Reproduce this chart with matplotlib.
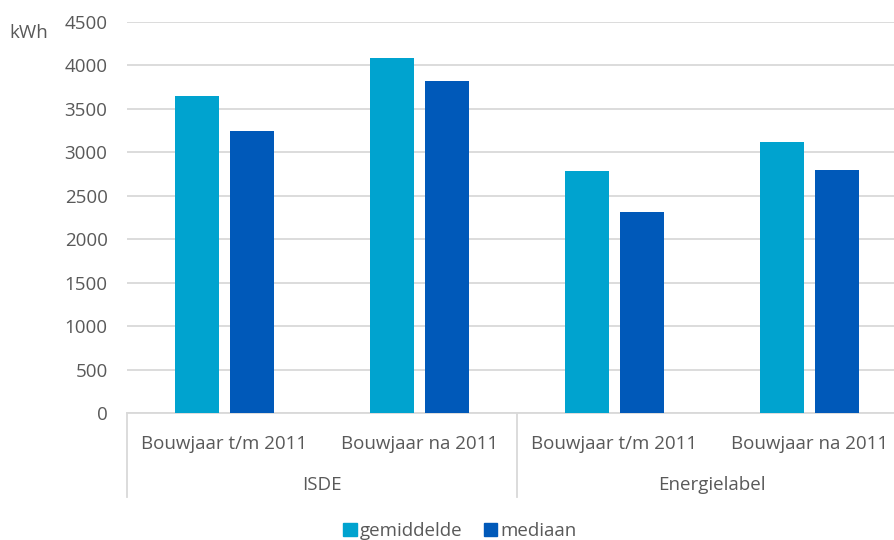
import numpy as np
import matplotlib.pyplot as plt
from matplotlib.patches import Patch
from matplotlib.transforms import blended_transform_factory

plt.rcParams['font.family'] = ['Open Sans', 'DejaVu Sans']

# bouwjaar-categorieën per regeling
subcats = ['Bouwjaar t/m 2011', 'Bouwjaar na 2011', 'Bouwjaar t/m 2011', 'Bouwjaar na 2011']
groups = ['ISDE', 'Energielabel']
gemiddelde = [3650, 4090, 2790, 3120]
mediaan = [3250, 3820, 2310, 2800]

grey = '#595959'
light = '#00A3CF'
dark = '#0059B9'
fs = 13.5

fig = plt.figure(figsize=(8.94, 5.4), dpi=100)
ax = fig.add_axes([127 / 894, 1 - 413 / 540, 780 / 894, 391 / 540])

x = np.arange(len(subcats))
w = 0.225
ax.bar(x - 0.142, gemiddelde, w, color=light, zorder=3)
ax.bar(x + 0.142, mediaan, w, color=dark, zorder=3)

ax.set_xlim(-0.5, len(subcats) - 0.5)
ax.set_ylim(0, 4500)
ax.set_yticks(np.arange(0, 4501, 500))
ax.yaxis.grid(True, color='#D9D9D9', linewidth=1.3, zorder=0)
ax.tick_params(axis='y', length=0, labelsize=fs, labelcolor=grey, pad=14)
for s in ['top', 'right', 'left']:
    ax.spines[s].set_visible(False)
ax.spines['bottom'].set_color('#D9D9D9')
ax.spines['bottom'].set_linewidth(1.3)

ax.set_xticks(x)
ax.set_xticklabels(subcats, fontsize=fs, color=grey)
ax.tick_params(axis='x', length=0, pad=16)

# tweede niveau: groepslabels en scheidingslijnen
tr = blended_transform_factory(ax.transData, ax.transAxes)
for i, g in enumerate(groups):
    ax.text(2 * i + 0.5, -0.184, g, transform=tr, ha='center', va='center',
            fontsize=fs, color=grey)
for xs in [-0.5, 1.5, 3.5]:
    ax.plot([xs, xs], [0, -0.215], transform=tr, color='#D9D9D9',
            linewidth=1.3, clip_on=False)

fig.text(29 / 894, 1 - 33 / 540, 'kWh', ha='center', va='center',
         fontsize=fs, color=grey)

handles = [Patch(color=light, label='gemiddelde'), Patch(color=dark, label='mediaan')]
fig.legend(handles=handles, loc='center', bbox_to_anchor=(460 / 894, 1 - 531 / 540),
           ncol=2, frameon=False, fontsize=fs, labelcolor=grey,
           handlelength=0.7, handleheight=0.7, handletextpad=0.2, columnspacing=1.1)

fig.savefig('out.png', dpi=100)
